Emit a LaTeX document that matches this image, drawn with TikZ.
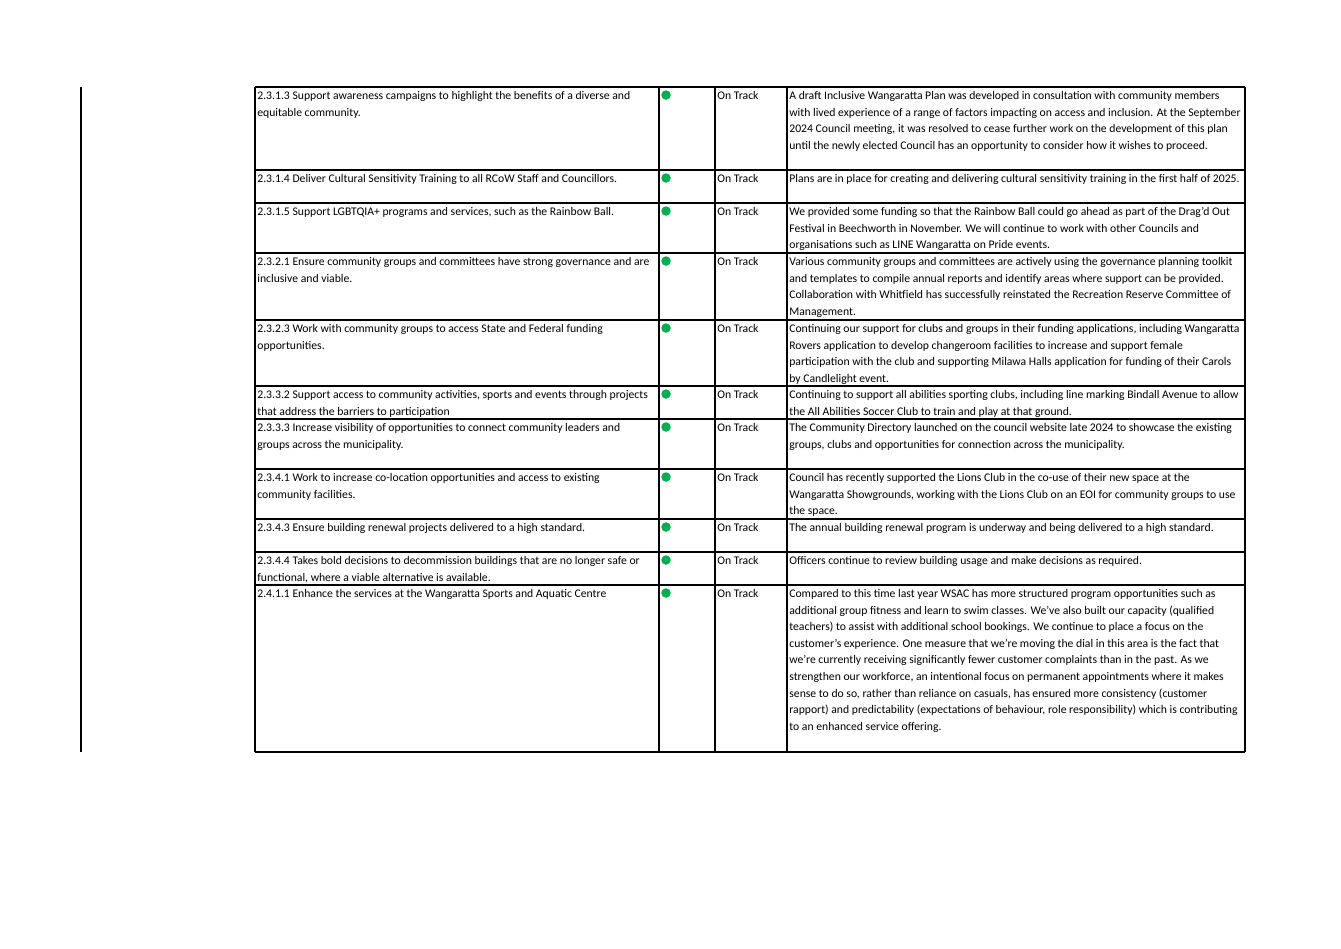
\documentclass[tikz,border=0pt]{standalone}
\usepackage{fontspec}
\setmainfont{Carlito}
\usetikzlibrary{positioning}
\definecolor{ontrack}{RGB}{0,176,80}
\tikzstyle{cell} = [anchor=north west, inner sep=0pt, align=left, font=\fontsize{6.65}{9.45}\selectfont]
\tikzstyle{dot} = [circle, fill=ontrack, inner sep=0pt, minimum size=0.19cm]
\tikzstyle{grid} = [line width=0.6pt]
% one table row: name, top y, goal text, note text
\newcommand{\tablerow}[4]{%
  \draw[grid] (255,#2) -- (1245,#2);
  \node[cell] (goal#1) at (257,#2+4) {#3};
  \node[dot] (dot#1) at (666,#2+8) {};
  \node[cell] (status#1) at (717,#2+4) {On Track};
  \node[cell] (note#1) at (789,#2+4) {#4};
}
\begin{document}
\begin{tikzpicture}[x=0.02cm, y=-0.02cm]
    \useasboundingbox (0,0) rectangle (1341,948);
    \draw[line width=1.6pt] (81,87) -- (81,752);

    %% Zeilen
    \tablerow{a}{87}{2.3.1.3 Support awareness campaigns to highlight the benefits of a diverse and\\equitable community.}{A draft Inclusive Wangaratta Plan was developed in consultation with community members\\with lived experience of a range of factors impacting on access and inclusion. At the September\\2024 Council meeting, it was resolved to cease further work on the development of this plan\\until the newly elected Council has an opportunity to consider how it wishes to proceed.}
    \tablerow{b}{170}{2.3.1.4 Deliver Cultural Sensitivity Training to all RCoW Staff and Councillors.}{Plans are in place for creating and delivering cultural sensitivity training in the first half of 2025.}
    \tablerow{c}{203}{2.3.1.5 Support LGBTQIA+ programs and services, such as the Rainbow Ball.}{We provided some funding so that the Rainbow Ball could go ahead as part of the Drag'd Out\\Festival in Beechworth in November. We will continue to work with other Councils and\\organisations such as LINE Wangaratta on Pride events.}
    \tablerow{d}{253}{2.3.2.1 Ensure community groups and committees have strong governance and are\\inclusive and viable.}{Various community groups and committees are actively using the governance planning toolkit\\and templates to compile annual reports and identify areas where support can be provided.\\Collaboration with Whitfield has successfully reinstated the Recreation Reserve Committee of\\Management.}
    \tablerow{e}{320}{2.3.2.3 Work with community groups to access State and Federal funding\\opportunities.}{Continuing our support for clubs and groups in their funding applications, including Wangaratta\\Rovers application to develop changeroom facilities to increase and support female\\participation with the club and supporting Milawa Halls application for funding of their Carols\\by Candlelight event.}
    \tablerow{f}{386}{2.3.3.2 Support access to community activities, sports and events through projects\\that address the barriers to participation}{Continuing to support all abilities sporting clubs, including line marking Bindall Avenue to allow\\the All Abilities Soccer Club to train and play at that ground.}
    \tablerow{g}{419}{2.3.3.3 Increase visibility of opportunities to connect community leaders and\\groups across the municipality.}{The Community Directory launched on the council website late 2024 to showcase the existing\\groups, clubs and opportunities for connection across the municipality.}
    \tablerow{h}{469}{2.3.4.1 Work to increase co-location opportunities and access to existing\\community facilities.}{Council has recently supported the Lions Club in the co-use of their new space at the\\Wangaratta Showgrounds, working with the Lions Club on an EOI for community groups to use\\the space.}
    \tablerow{i}{519}{2.3.4.3 Ensure building renewal projects delivered to a high standard.}{The annual building renewal program is underway and being delivered to a high standard.}
    \tablerow{j}{552}{2.3.4.4 Takes bold decisions to decommission buildings that are no longer safe or\\functional, where a viable alternative is available.}{Officers continue to review building usage and make decisions as required.}
    \tablerow{k}{585}{2.4.1.1 Enhance the services at the Wangaratta Sports and Aquatic Centre}{Compared to this time last year WSAC has more structured program opportunities such as\\additional group fitness and learn to swim classes. We've also built our capacity (qualified\\teachers) to assist with additional school bookings. We continue to place a focus on the\\customer's experience. One measure that we're moving the dial in this area is the fact that\\we're currently receiving significantly fewer customer complaints than in the past. As we\\strengthen our workforce, an intentional focus on permanent appointments where it makes\\sense to do so, rather than reliance on casuals, has ensured more consistency (customer\\rapport) and predictability (expectations of behaviour, role responsibility) which is contributing\\to an enhanced service offering.}

    %% Spalten
    \draw[grid] (255,752) -- (1245,752);
    \draw[grid] (255,87) -- (255,752);
    \draw[grid] (659,87) -- (659,752);
    \draw[line width=1.1pt] (715,87) -- (715,752);
    \draw[grid] (787,87) -- (787,752);
    \draw[line width=1.2pt] (1245,87) -- (1245,752);
\end{tikzpicture}
\end{document}
